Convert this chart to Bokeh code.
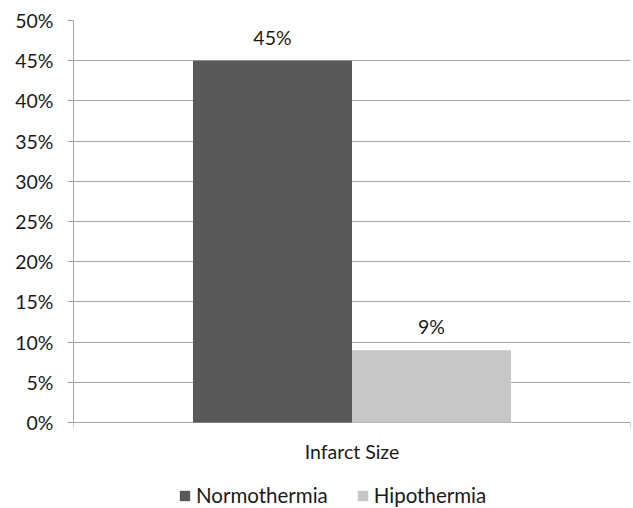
from bokeh.plotting import figure
from bokeh.models import (ColumnDataSource, Range1d, FixedTicker, NumeralTickFormatter,
                          Legend, LegendItem, LabelSet, Label)
from bokeh.core.properties import value
from bokeh.embed import file_html
from bokeh.resources import INLINE

categories = ["Infarct Size"]
series = ["Normothermia", "Hipothermia"]
values = [0.45, 0.09]
labels = ["45%", "9%"]
colors = ["#595959", "#c6c7c8"]
y_ticks = [0, 0.05, 0.10, 0.15, 0.20, 0.25, 0.30, 0.35, 0.40, 0.45, 0.50]
y_max = 0.5

FONT = "Lato"
FS = "19.5px"
TXT = "#1a1a1a"
AX = "#a6a6a6"

# layout in screen pixels
W, H = 633, 508
top_border, plot_px, below_px = 20, 402, 86
units_per_px = y_max / plot_px
y_min = -below_px * units_per_px

group_width = 0.571
bar_w = group_width / len(series)
xs = [0.5 + (i - (len(series) - 1) / 2) * bar_w for i in range(len(series))]

src = ColumnDataSource(dict(x=xs, top=values, color=colors, name=series, label=labels))

p = figure(width=W, height=H, output_backend="svg", toolbar_location=None,
           x_range=Range1d(0, len(categories)), y_range=Range1d(y_min, y_max),
           x_axis_location=None,
           min_border_left=73, min_border_right=3, min_border_top=top_border, min_border_bottom=0)
p.outline_line_color = None
p.background_fill_color = "white"
p.border_fill_color = "white"

p.xgrid.grid_line_color = None
p.ygrid.ticker = FixedTicker(ticks=y_ticks)
p.ygrid.grid_line_color = AX
p.ygrid.grid_line_width = 1

r = p.vbar(x="x", top="top", width=bar_w, fill_color="color", line_color=None, source=src)

# category boundary ticks on the x baseline
bounds = list(range(len(categories) + 1))
p.segment(x0=bounds, x1=bounds, y0=[0] * len(bounds), y1=[-6 * units_per_px] * len(bounds),
          line_color=AX, line_width=1)

lbl = LabelSet(x="x", y="top", text="label", source=src, text_align="center",
               text_baseline="alphabetic", y_offset=16, text_font=value(FONT),
               text_font_size=value(FS), text_color=value(TXT))
p.add_layout(lbl)

for i, c in enumerate(categories):
    p.add_layout(Label(x=i + 0.5, y=0, y_offset=-29, text=c, text_align="center",
                       text_baseline="middle", text_font=FONT, text_font_size=FS,
                       text_color=TXT))

# y axis
p.yaxis.ticker = FixedTicker(ticks=y_ticks)
p.yaxis.bounds = (0, y_max)
p.yaxis.formatter = NumeralTickFormatter(format="0%")
p.yaxis.major_label_text_font = FONT
p.yaxis.major_label_text_font_size = FS
p.yaxis.major_label_text_color = TXT
p.yaxis.axis_line_color = AX
p.yaxis.major_tick_line_color = AX
p.yaxis.major_tick_out = 6
p.yaxis.major_tick_in = 0
p.yaxis.minor_tick_line_color = None
p.yaxis.major_label_standoff = 14

items = [LegendItem(label=series[i], renderers=[r], index=i) for i in range(len(series))]
legend = Legend(items=items, orientation="horizontal", location=(105, 1),
                label_text_font=FONT, label_text_font_size="20.5px", label_text_color=TXT,
                glyph_width=13, glyph_height=13, label_standoff=5, spacing=28,
                padding=0, margin=0, border_line_color=None, background_fill_alpha=0)
p.add_layout(legend)

open("out.html", "w").write(file_html(p, INLINE))
